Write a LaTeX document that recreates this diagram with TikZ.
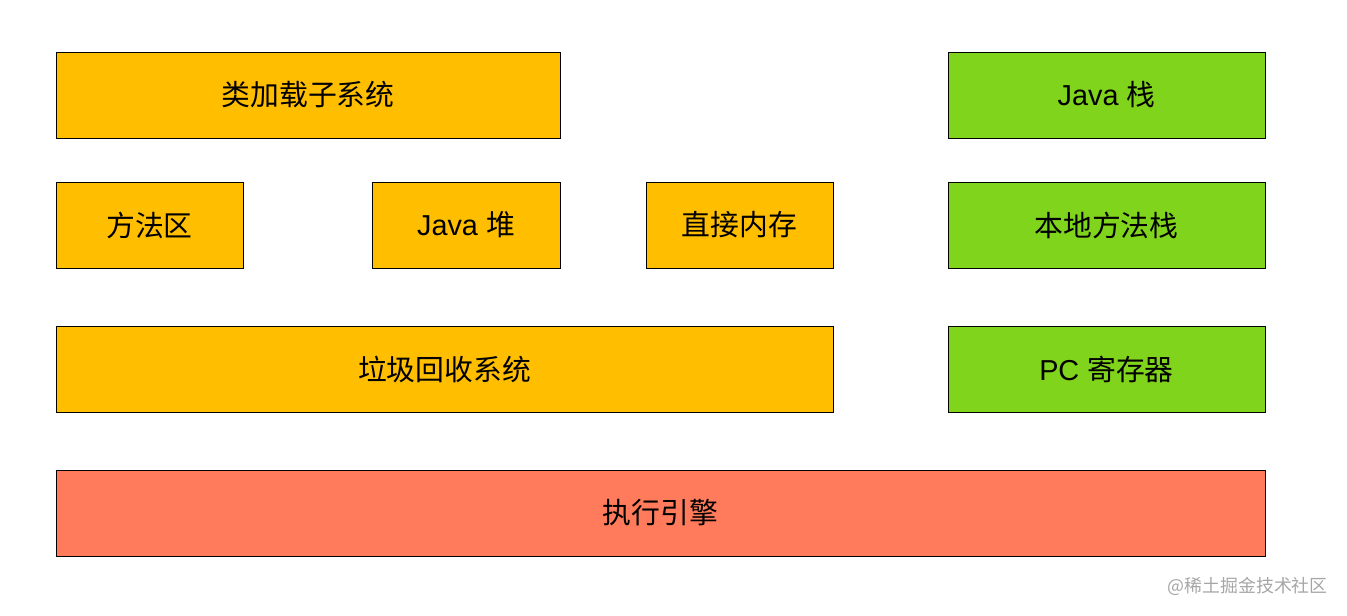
\documentclass[tikz,border=0pt]{standalone}
\usepackage{fontspec}
\setmainfont{Liberation Sans}
\newfontfamily\cjk{Noto Sans CJK SC}

\definecolor{amberfill}{HTML}{FFBF00}
\definecolor{limefill}{HTML}{80D41B}
\definecolor{coralfill}{HTML}{FF7B5B}

\begin{document}
\begin{tikzpicture}[block/.style={draw=black, line width=0.45pt, inner sep=0pt, minimum height=1.72cm, font=\fontsize{16.4}{19}\selectfont},amber/.style={block, fill=amberfill},lime/.style={block, fill=limefill, minimum width=6.34cm},coral/.style={block, fill=coralfill},mark text/.style={font=\fontsize{10.2}{12}\selectfont\cjk, text=black!35}]
\useasboundingbox (0,0) rectangle (26.94,-12.3);
% left column: runtime data areas
\node[amber, minimum width=10.08cm] (loader) at (6.16,-1.9) {\cjk 类加载子系统};
\node[amber, minimum width=3.74cm] (method) at (2.99,-4.5) {\cjk 方法区};
\node[amber, minimum width=3.76cm] (heap) at (9.32,-4.5) {Java {\cjk 堆}};
\node[amber, minimum width=3.74cm] (direct) at (14.79,-4.5) {\cjk 直接内存};
\node[amber, minimum width=15.54cm] (gc) at (8.89,-7.38) {\cjk 垃圾回收系统};
% right column: per-thread areas
\node[lime] (jstack) at (22.13,-1.9) {Java {\cjk 栈}};
\node[lime] (nstack) at (22.13,-4.5) {\cjk 本地方法栈};
\node[lime] (pcreg) at (22.13,-7.38) {PC {\cjk 寄存器}};
% bottom
\node[coral, minimum width=24.18cm] (engine) at (13.21,-10.26) {\cjk 执行引擎};
\node[mark text, anchor=east] (mark) at (26.68,-11.72) {@稀土掘金技术社区};
\end{tikzpicture}
\end{document}
